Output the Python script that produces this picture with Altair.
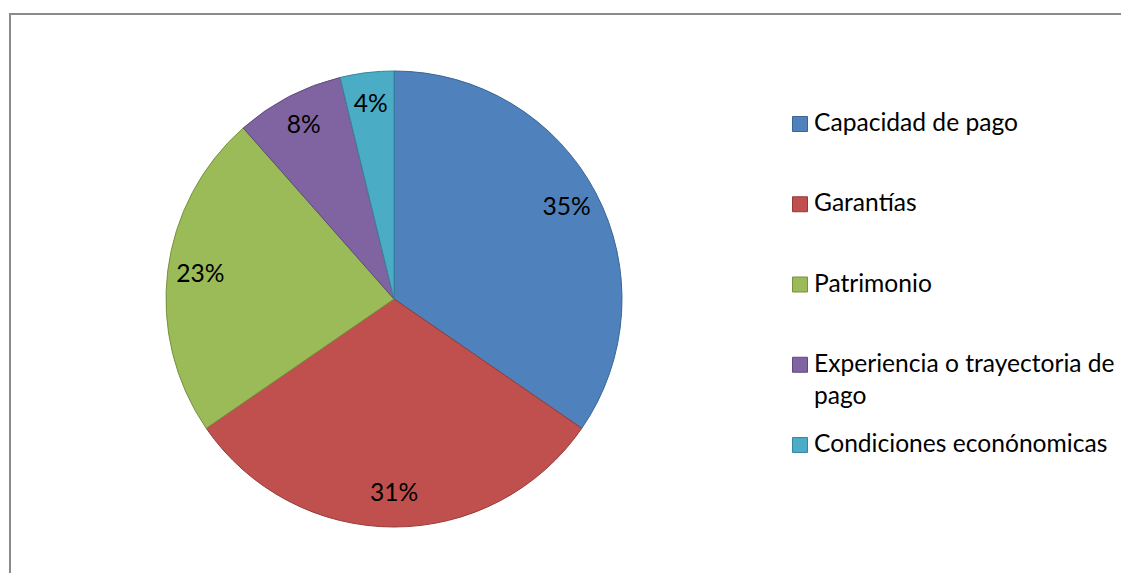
import altair as alt
import pandas as pd

categories = [
    "Capacidad de pago",
    "Garantías",
    "Patrimonio",
    "Experiencia o trayectoria de\npago",
    "Condiciones econónomicas",
]
shares = [34.6, 30.8, 23.1, 7.7, 3.8]
pct_labels = ["35%", "31%", "23%", "8%", "4%"]
fill_colors = ["#4F81BD", "#C0504D", "#9BBB59", "#8064A2", "#4BACC6"]
edge_colors = ["#3A6593", "#943B39", "#76913F", "#5F4A7C", "#35869B"]

FONT = "Lato"
FS = 24.6

df = pd.DataFrame({
    "cat": categories,
    "share": shares,
    "pct": pct_labels,
    "idx": list(range(len(categories))),
})

W, H = 1112, 560
CX, CY, R = 385, 286, 228

color = alt.Color("cat:N", scale=alt.Scale(domain=categories, range=fill_colors), legend=None)
stroke = alt.Stroke("cat:N", scale=alt.Scale(domain=categories, range=edge_colors), legend=None)

base = alt.Chart(df)

pie = base.mark_arc(outerRadius=R, strokeWidth=1).encode(
    theta=alt.Theta("share:Q", stack=True),
    color=color,
    stroke=stroke,
    order=alt.Order("idx:Q"),
    x=alt.value(CX),
    y=alt.value(CY),
)

labels = base.mark_text(radius=195, font=FONT, fontSize=FS, color="black").encode(
    theta=alt.Theta("share:Q", stack=True),
    text="pct:N",
    order=alt.Order("idx:Q"),
    x=alt.value(CX),
    y=alt.value(CY),
)

ypos = alt.Y("cat:N", sort=categories, axis=None,
             scale=alt.Scale(type="point", domain=categories, range=[111, 432], padding=0))

leg_sq = base.mark_square(size=225, strokeWidth=1, opacity=1).encode(
    x=alt.value(791),
    y=ypos,
    color=color,
    stroke=stroke,
)

leg_txt = base.mark_text(align="left", baseline="middle", font=FONT, fontSize=FS,
                         lineBreak="\n", lineHeight=32, color="black").encode(
    x=alt.value(805),
    y=ypos,
    text="cat:N",
)

frame_left = base.mark_rule(color="#8a8a8a", strokeWidth=2).encode(
    x=alt.value(1), y=alt.value(0), y2=alt.value(H)
)
frame_top = base.mark_rule(color="#8a8a8a", strokeWidth=2).encode(
    x=alt.value(0), x2=alt.value(W), y=alt.value(1)
)

chart = alt.layer(pie, labels, leg_sq, leg_txt, frame_left, frame_top).properties(
    width=W, height=H,
    padding={"left": 1, "top": 5, "right": 0, "bottom": 0},
    autosize=alt.AutoSizeParams(type="none"),
).configure_view(stroke=None).configure(background="white")

chart.save("out.html", embed_options={"renderer": "svg", "actions": False})
